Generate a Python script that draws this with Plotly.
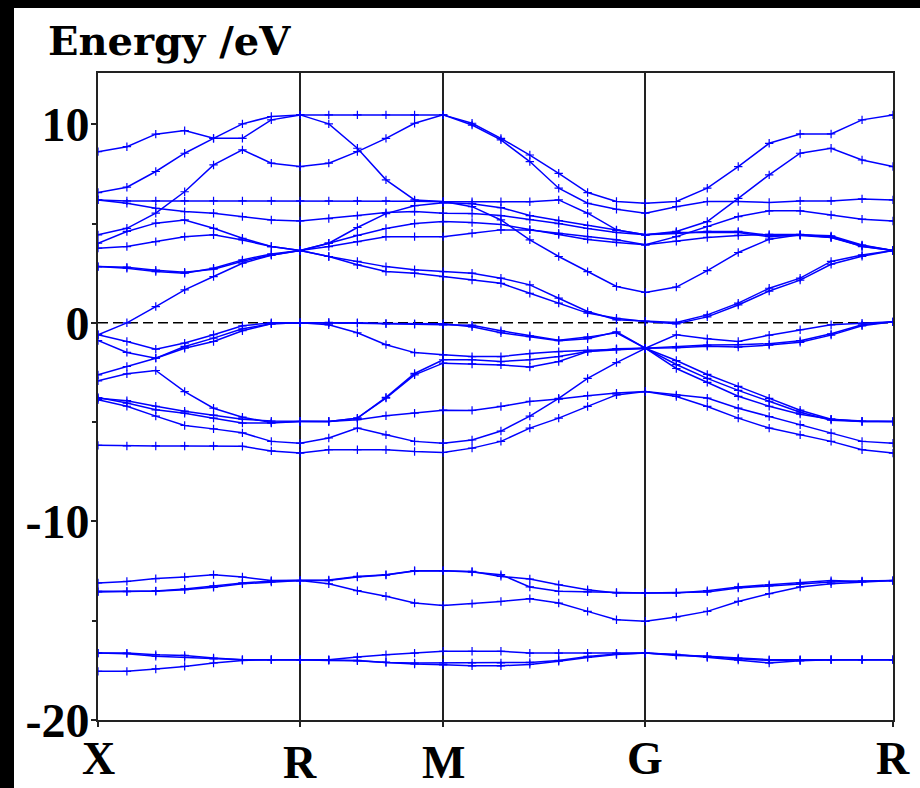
import plotly.graph_objects as go

# ---------------- k-path ----------------
path_labels = ["X", "R", "M", "G", "R"]
segment_lengths = [0.7071, 0.5, 0.7071, 0.8660]
segment_divisions = [7, 5, 7, 8]

k = [0.0]
sym_k = [0.0]
pos = 0.0
for L, n in zip(segment_lengths, segment_divisions):
    for i in range(1, n + 1):
        k.append(pos + L * i / n)
    pos += L
    sym_k.append(pos)

# ---------------- band energies (eV), 28 k-points: X-R | R-M | M-G | G-R ----------------
L1 = [-13.10, -13.02, -12.88, -12.80, -12.68, -12.80, -12.98, -12.98,
      -12.95, -12.77, -12.68, -12.48, -12.48,
      -12.52, -12.77, -12.90, -13.19, -13.44, -13.60, -13.60,
      -13.60, -13.49, -13.30, -13.19, -13.10, -12.98, -13.02, -12.98]
L2 = [-13.52, -13.52, -13.52, -13.44, -13.32, -13.14, -13.05, -12.98,
      -12.98, -12.80, -12.70, -12.50, -12.48,
      -12.55, -12.68, -13.30, -13.52, -13.55, -13.58, -13.60,
      -13.58, -13.55, -13.35, -13.25, -13.15, -13.05, -13.00, -12.98]
L3 = [-13.55, -13.54, -13.50, -13.40, -13.25, -13.10, -13.00, -12.98,
      -13.14, -13.49, -13.77, -14.11, -14.23,
      -14.14, -14.03, -13.89, -14.11, -14.53, -14.95, -15.03,
      -14.81, -14.53, -14.03, -13.64, -13.30, -13.14, -13.05, -12.98]
U1 = [-16.63, -16.63, -16.71, -16.75, -16.88, -16.96, -16.96, -16.96,
      -16.96, -16.83, -16.71, -16.63, -16.54,
      -16.54, -16.54, -16.63, -16.63, -16.63, -16.63, -16.63,
      -16.75, -16.79, -16.88, -16.96, -16.96, -16.96, -16.96, -16.96]
U2 = [-16.63, -16.66, -16.79, -16.85, -16.92, -16.96, -16.96, -16.96,
      -16.98, -17.00, -17.10, -17.13, -17.13,
      -17.13, -17.13, -17.10, -17.00, -16.80, -16.68, -16.63,
      -16.70, -16.85, -16.98, -17.13, -17.02, -16.96, -16.96, -16.96]
U3 = [-17.55, -17.55, -17.43, -17.30, -17.13, -17.00, -16.96, -16.96,
      -17.00, -17.02, -17.10, -17.18, -17.22,
      -17.27, -17.27, -17.20, -17.04, -16.85, -16.70, -16.63,
      -16.72, -16.80, -16.92, -17.00, -16.98, -16.96, -16.96, -16.96]

VA = [-0.60, -0.94, -1.33, -1.02, -0.60, -0.15, 0.00, 0.00,
      0.02, 0.00, -0.03, -0.05, -0.05,
      -0.20, -0.50, -0.70, -0.90, -0.80, -0.45, -1.28,
      -0.60, -0.80, -0.94, -0.62, -0.35, -0.10, -0.02, 0.05]
VB = [-0.89, -1.49, -1.78, -1.19, -0.77, -0.30, -0.05, 0.00,
      -0.10, -0.50, -1.10, -1.50, -1.61,
      -1.70, -1.70, -1.55, -1.45, -1.38, -1.33, -1.28,
      -1.20, -1.12, -1.10, -1.05, -0.90, -0.55, -0.10, 0.05]
VC = [-2.62, -2.20, -1.78, -1.28, -0.94, -0.40, -0.05, 0.00,
      0.00, -0.02, -0.05, -0.08, -0.10,
      -0.12, -0.40, -0.65, -0.88, -0.72, -0.50, -1.28,
      -1.25, -1.18, -1.22, -1.12, -0.98, -0.62, -0.15, 0.05]
VD = [-2.92, -2.57, -2.40, -3.46, -4.30, -4.75, -5.02, -4.97,
      -4.97, -4.80, -3.79, -2.62, -2.03,
      -2.07, -2.12, -2.23, -1.95, -1.45, -1.30, -1.28,
      -2.10, -2.80, -3.40, -3.95, -4.50, -4.90, -4.97, -4.97]
VE = [-3.76, -4.04, -4.38, -4.55, -4.80, -5.05, -5.05, -4.97,
      -4.97, -4.88, -4.68, -4.55, -4.40,
      -4.41, -4.21, -3.96, -3.84, -3.67, -3.54, -3.46,
      -3.63, -3.79, -4.30, -4.72, -5.13, -5.55, -5.97, -6.06]
VF = [-3.87, -4.20, -4.70, -5.17, -5.34, -5.54, -5.97, -6.06,
      -5.80, -5.30, -5.64, -5.97, -6.06,
      -5.90, -5.45, -4.70, -3.80, -2.80, -2.00, -1.28,
      -2.30, -3.00, -3.70, -4.20, -4.60, -4.85, -4.97, -4.97]
VG = [-3.80, -3.92, -4.20, -4.45, -4.65, -4.85, -4.95, -4.97,
      -4.97, -4.80, -3.75, -2.55, -1.86,
      -1.86, -1.95, -1.86, -1.70, -1.45, -1.35, -1.28,
      -1.90, -2.60, -3.20, -3.80, -4.40, -4.85, -4.95, -4.97]
VH = [-6.17, -6.20, -6.20, -6.20, -6.20, -6.22, -6.45, -6.56,
      -6.39, -6.39, -6.39, -6.48, -6.53,
      -6.31, -5.97, -5.30, -4.80, -4.21, -3.63, -3.46,
      -3.71, -4.21, -4.80, -5.30, -5.64, -5.97, -6.39, -6.56]

C1 = [8.62, 8.87, 9.50, 9.68, 9.29, 9.29, 10.22, 10.47,
      10.47, 10.47, 10.47, 10.47, 10.47,
      10.05, 9.29, 8.45, 7.53, 6.56, 6.11, 6.02,
      6.11, 6.78, 7.87, 9.04, 9.51, 9.51, 10.22, 10.47]
C2 = [6.56, 6.83, 7.62, 8.54, 9.29, 10.02, 10.39, 10.47,
      10.02, 8.79, 7.20, 6.19, 6.11,
      5.85, 5.18, 4.18, 3.34, 2.58, 1.83, 1.53,
      1.80, 2.63, 3.54, 4.21, 4.43, 4.38, 3.92, 3.64]
C3 = [4.43, 4.76, 5.52, 6.60, 7.95, 8.71, 8.04, 7.87,
      8.04, 8.62, 9.29, 10.05, 10.47,
      9.96, 9.21, 8.12, 6.78, 6.02, 5.72, 5.52,
      5.85, 6.11, 6.11, 6.06, 6.14, 6.14, 6.24, 6.19]
C4 = [6.19, 6.14, 6.14, 6.14, 6.14, 6.14, 6.14, 6.14,
      6.14, 6.14, 6.14, 6.12, 6.10,
      6.10, 6.10, 6.10, 6.19, 5.52, 4.68, 4.43,
      4.60, 5.10, 6.27, 7.45, 8.54, 8.79, 8.20, 7.87]
C5 = [6.19, 6.02, 5.77, 5.60, 5.52, 5.35, 5.18, 5.13,
      5.25, 5.40, 5.55, 5.60, 5.52,
      5.50, 5.40, 5.20, 5.00, 4.75, 4.55, 4.43,
      4.55, 4.55, 4.55, 4.34, 4.43, 4.34, 3.84, 3.64]
C6 = [4.01, 4.60, 5.02, 5.18, 4.76, 4.26, 3.84, 3.64,
      4.01, 4.40, 4.75, 5.00, 5.10,
      5.05, 4.95, 4.70, 4.45, 4.20, 4.05, 3.93,
      4.34, 4.85, 5.35, 5.64, 5.64, 5.43, 5.22, 5.13]
C7 = [3.76, 3.84, 4.09, 4.34, 4.43, 4.17, 3.84, 3.64,
      3.84, 4.09, 4.34, 4.34, 4.34,
      4.51, 4.68, 4.68, 4.51, 4.34, 4.18, 3.93,
      4.10, 4.30, 4.40, 4.45, 4.45, 4.30, 3.90, 3.64]
C8 = [2.83, 2.75, 2.58, 2.50, 2.75, 3.17, 3.47, 3.64,
      4.01, 4.80, 5.50, 5.90, 6.05,
      6.00, 5.80, 5.40, 5.15, 4.90, 4.65, 4.43,
      4.50, 4.60, 4.60, 4.40, 4.40, 4.30, 3.85, 3.64]
C9 = [2.83, 2.80, 2.65, 2.55, 2.70, 3.10, 3.42, 3.64,
      3.34, 3.09, 2.83, 2.67, 2.58,
      2.50, 2.25, 1.91, 1.24, 0.57, 0.15, 0.07,
      0.02, 0.40, 0.99, 1.74, 2.25, 3.09, 3.42, 3.64]
C10 = [-0.60, 0.00, 0.82, 1.66, 2.33, 3.00, 3.40, 3.64,
       3.34, 2.92, 2.58, 2.50, 2.33,
       2.16, 1.99, 1.49, 0.99, 0.49, 0.23, 0.07,
       -0.05, 0.30, 0.90, 1.60, 2.15, 2.95, 3.35, 3.64]

bands = [L1, L2, L3, U1, U2, U3, VA, VB, VC, VD, VE, VF, VG, VH,
         C1, C2, C3, C4, C5, C6, C7, C8, C9, C10]

y_tick_vals = [-20, -10, 0, 10]
y_tick_text = ["-20", "-10", "0", "10"]
y_minor_vals = [-15, -5, 5]
y_range = [-20, 12.58]

# ---------------- figure ----------------
fig = go.Figure()
BLUE = "#0000ff"
for b in bands:
    fig.add_trace(go.Scatter(
        x=k, y=b, mode="lines+markers",
        line=dict(color=BLUE, width=1.5),
        marker=dict(symbol="cross-thin", size=6, line=dict(color=BLUE, width=1.2)),
        hoverinfo="skip", showlegend=False))

W, H = 920, 788
ML, MR, MT, MB = 98, 27, 73, 68
pw, ph = W - ML - MR, H - MT - MB

def px_x(px):
    return (px - ML) / pw

def px_y(py):
    return 1 - (py - MT) / ph

shapes = [
    # Fermi level
    dict(type="line", xref="paper", yref="y", x0=0, x1=1, y0=0, y1=0,
         line=dict(color="black", width=1.5, dash="10px,5px"), layer="between"),
    # black strips of the original image frame
    dict(type="rect", xref="paper", yref="paper", x0=px_x(0), x1=px_x(14),
         y0=px_y(H), y1=px_y(0), fillcolor="black", line=dict(width=0), layer="above"),
    dict(type="rect", xref="paper", yref="paper", x0=px_x(0), x1=px_x(W),
         y0=px_y(8), y1=px_y(0), fillcolor="black", line=dict(width=0), layer="above"),
]

tick_font = dict(family="Liberation Serif", size=48, color="black", weight="bold")
label_font = dict(family="Liberation Serif", size=46, color="black", weight="bold")
label_y = [758, 762, 762, 758, 758]
annotations = [
    dict(text="Energy /eV", xref="paper", yref="paper", x=px_x(46), y=px_y(41),
         xanchor="left", yanchor="middle", showarrow=False,
         font=dict(family="DejaVu Serif", size=40, color="black", weight="bold")),
]
for lab, kx, ly in zip(path_labels, sym_k, label_y):
    annotations.append(dict(text=lab, xref="x", yref="paper", x=kx, y=px_y(ly),
                            xanchor="center", yanchor="middle", showarrow=False,
                            font=label_font))

fig.update_layout(
    width=W, height=H,
    margin=dict(l=ML, r=MR, t=MT, b=MB),
    paper_bgcolor="white", plot_bgcolor="white",
    shapes=shapes, annotations=annotations,
    xaxis=dict(range=[0, sym_k[-1]], tickvals=sym_k, showticklabels=False,
               ticks="outside", ticklen=5, tickcolor="#222", tickwidth=1.5,
               showgrid=True, gridcolor="#222", gridwidth=1.5, zeroline=False,
               showline=True, mirror=True, linecolor="#222", linewidth=2),
    yaxis=dict(range=y_range, tickvals=y_tick_vals, ticktext=y_tick_text,
               ticks="outside", ticklen=5, tickcolor="#222", tickwidth=1.5,
               ticklabelstandoff=-8,
               minor=dict(tickvals=y_minor_vals, ticks="outside", ticklen=4,
                          tickcolor="#222", showgrid=False),
               tickfont=tick_font, showgrid=False, zeroline=False,
               showline=True, mirror=True, linecolor="#222", linewidth=2),
)

fig.write_html("out.html", config={"displayModeBar": False},
               post_script="document.body.style.margin='0';document.body.style.overflow='hidden';")
